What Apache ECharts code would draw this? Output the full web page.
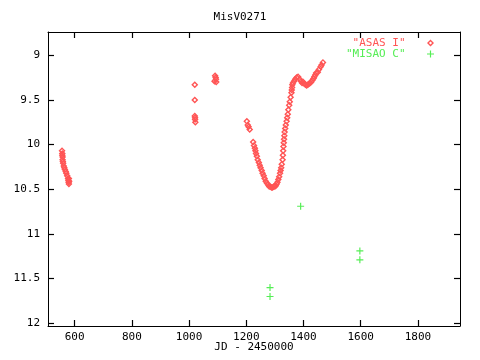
<!DOCTYPE html>
<html><head><meta charset="utf-8">
<script src="https://cdn.jsdelivr.net/npm/echarts@6/dist/echarts.min.js"></script>
<style>html,body{margin:0;padding:0;background:#fff}#c{width:480px;height:360px}</style>
</head><body><div id="c"></div>
<script>
const chartTitle = 'MisV0271';
const xName = 'JD - 2450000';
const seriesNames = ['"ASAS I"', '"MISAO C"'];
const xTicks = [600, 800, 1000, 1200, 1400, 1600, 1800];
const yTicks = [9, 9.5, 10, 10.5, 11, 11.5, 12];

const asasJD = [
  556,557,557,558,558,559,560,562,564,566,569,571,574,577,578,579,580,581,580,
  1020,1020,1020,1021,1021,1022,
  1089,1091,1093,1094,1095,
  1202,1205,1208,1212,
  1224,1227,1230,1232,1234,1237,1240,1244,1247,1250,1254,1257,1261,1264,1268,1272,1276,1280,1284,1288,1292,1296,1300,1303,1306,1309,1312,1315,1318,1320,1322,1324,
  1327,1328,1329,1330,1331,1332,1333,1334,1336,1338,1341,1343,1345,1347,1350,1352,1355,1358,1359,1360,1361,1363,1367,1371,1376,1381,
  1387,1391,1395,1399,1403,1407,1411,1415,1419,1423,1427,1431,
  1435,1438,1441,1444,1450,1454,1460,1463,1468
];
const asasMag = [
  10.07,10.10,10.12,10.14,10.17,10.19,10.21,10.24,10.26,10.28,10.30,10.32,10.35,10.38,10.40,10.42,10.44,10.41,10.38,
  9.33,9.50,9.68,9.70,9.72,9.75,
  9.29,9.23,9.25,9.27,9.30,
  9.74,9.78,9.80,9.83,
  9.97,10.01,10.04,10.07,10.10,10.13,10.17,10.20,10.23,10.26,10.29,10.32,10.35,10.38,10.41,10.43,10.45,10.47,10.47,10.48,10.48,10.47,10.47,10.46,10.44,10.42,10.39,10.36,10.32,10.29,10.26,10.22,
  10.17,10.12,10.07,10.02,9.98,9.94,9.90,9.86,9.82,9.78,9.74,9.70,9.66,9.61,9.56,9.52,9.47,9.42,9.39,9.36,9.33,9.31,9.29,9.27,9.25,9.24,
  9.27,9.29,9.31,9.30,9.32,9.33,9.34,9.33,9.32,9.31,9.30,9.28,
  9.26,9.24,9.22,9.20,9.19,9.16,9.13,9.11,9.08
];
const misaoJD = [1283, 1283, 1390, 1597, 1597];
const misaoMag = [11.60, 11.70, 10.69, 11.19, 11.29];

const FONT = 'DejaVu Sans Mono';
const RED = '#ff5555';
const GREEN = '#55ee55';
const diamondPath = 'path://M3,0L6,3L3,6L0,3Z M3,1.7L1.7,3L3,4.3L4.3,3Z';
const plusPath = 'path://M0,2.5H6V3.5H0Z M2.5,0H3.5V6H2.5Z';

function tick(values) {
  return {show: true, inside: true, length: 6, customValues: values, lineStyle: {color: '#000', width: 1.2}};
}
function axLine() {
  return {show: true, lineStyle: {color: '#000', width: 1}};
}
function label(values, margin) {
  return {customValues: values, margin: margin, formatter: v => String(v),
          fontFamily: FONT, fontSize: 11, color: '#000'};
}

const chart = echarts.init(document.getElementById('c'));
chart.setOption({
  animation: false,
  title: {
    text: chartTitle, left: 'center', top: 7,
    textStyle: {fontFamily: FONT, fontSize: 11, fontWeight: 'normal', color: '#000'}
  },
  legend: {
    orient: 'vertical', right: 46, top: 37.5, padding: 0, itemGap: 0,
    align: 'right', itemWidth: 40, itemHeight: 7,
    textStyle: {fontFamily: FONT, fontSize: 11, lineHeight: 11},
    data: [
      {name: seriesNames[0], textStyle: {color: RED}},
      {name: seriesNames[1], textStyle: {color: GREEN}}
    ]
  },
  grid: {left: 48, right: 20, top: 32, bottom: 34, outerBoundsMode: 'none'},
  xAxis: [
    {
      type: 'value', position: 'bottom', min: 507, max: 1947,
      name: xName, nameLocation: 'middle', nameGap: 16, nameMoveOverlap: false,
      nameTextStyle: {fontFamily: FONT, fontSize: 11, color: '#000'},
      splitLine: {show: false}, axisLine: axLine(),
      axisTick: tick(xTicks), axisLabel: label(xTicks, 6)
    },
    {
      type: 'value', position: 'top', min: 507, max: 1947,
      splitLine: {show: false}, axisLine: axLine(),
      axisTick: tick(xTicks), axisLabel: {show: false}
    }
  ],
  yAxis: [
    {
      type: 'value', position: 'left', inverse: true, min: 8.74, max: 12.03,
      splitLine: {show: false}, axisLine: axLine(),
      axisTick: tick(yTicks), axisLabel: label(yTicks, 8)
    },
    {
      type: 'value', position: 'right', inverse: true, min: 8.74, max: 12.03,
      splitLine: {show: false}, axisLine: axLine(),
      axisTick: tick(yTicks), axisLabel: {show: false}
    }
  ],
  series: [
    {
      name: seriesNames[0], type: 'scatter', xAxisIndex: 0, yAxisIndex: 0,
      symbol: diamondPath, symbolSize: 7,
      itemStyle: {color: RED, opacity: 1},
      data: asasJD.map((x, i) => [x, asasMag[i]])
    },
    {
      name: seriesNames[1], type: 'scatter', xAxisIndex: 0, yAxisIndex: 0,
      symbol: plusPath, symbolSize: 7,
      itemStyle: {color: GREEN, opacity: 1},
      data: misaoJD.map((x, i) => [x, misaoMag[i]])
    }
  ]
});
</script>
</body></html>
